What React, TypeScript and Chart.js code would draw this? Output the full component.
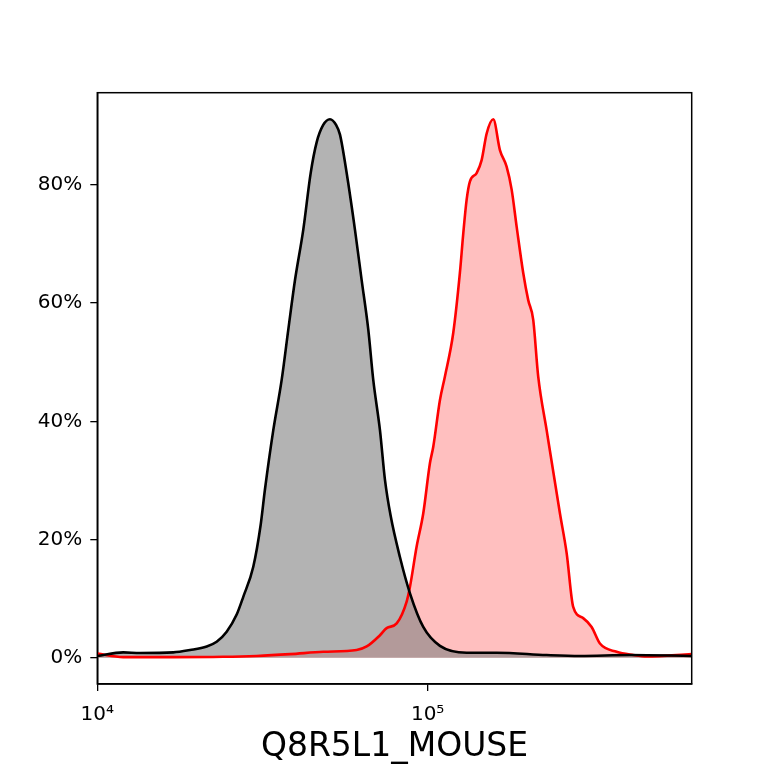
import React, { useEffect, useRef } from "react";
import { Chart, registerables } from "chart.js";

Chart.register(...registerables);

// Control (gray) histogram: x = intensity, y = % of max
const grayX = [10000, 11980, 13470, 16980, 19090, 21440, 22980, 24640, 26420, 27660, 29660, 31230, 32180, 34100, 36150, 37860, 39670, 42020, 44250, 46130, 48250, 50620, 52870, 54280, 56870, 60260, 63130, 66120, 68450, 71720, 74270, 77270, 82460, 88410, 96980, 108960, 131240, 161800, 229200, 289100, 409600, 629500];
const grayY = [0.3, 0.9, 0.8, 0.9, 1.3, 1.9, 2.7, 4.4, 7.3, 10.3, 15.4, 22.5, 28.5, 38.5, 47, 55.5, 63.9, 72.4, 82, 87.2, 90.1, 91.1, 90.1, 88.5, 82, 72.4, 63.9, 55.5, 47, 38.5, 30.1, 24, 17.0, 10.9, 5.2, 2.0, 0.85, 0.85, 0.45, 0.3, 0.45, 0.3];

// Sample (red) histogram
const redX = [10000, 11980, 16980, 24010, 30370, 38300, 48310, 60970, 65370, 71720, 75150, 80580, 86390, 88410, 92620, 96980, 101600, 104000, 108960, 112800, 119500, 125200, 128200, 131240, 134300, 140700, 145700, 150900, 158000, 165500, 173400, 179600, 186000, 194700, 201600, 208700, 216100, 229200, 251500, 263500, 275800, 295700, 313600, 332300, 373300, 419200, 460100, 629500];
const redY = [0.7, 0.1, 0.1, 0.15, 0.3, 0.6, 1.0, 1.3, 1.9, 3.8, 5.0, 5.8, 9.5, 12, 18.8, 24.4, 32.9, 35.7, 43.6, 47.6, 54.9, 65.1, 71.8, 77.5, 80.6, 82.0, 84.2, 88.7, 91.1, 85.9, 83.1, 79.2, 72.9, 65.1, 60.5, 57.2, 47.6, 38.5, 24.4, 17.7, 8.6, 6.7, 5.2, 2.4, 1.0, 0.45, 0.2, 0.6];

const xTickValues = [10000, 100000];
const xTickLabels = ["10⁴", "10⁵"];
const yTickValues = [0, 20, 40, 60, 80];
const xLabel = "Q8R5L1_MOUSE";

const FONT = "'DejaVu Sans', sans-serif";

const framePlugin = {
  id: "frame",
  afterDraw(chart: any) {
    const { ctx, chartArea } = chart;
    ctx.save();
    ctx.strokeStyle = "#000";
    ctx.lineWidth = 1.5;
    ctx.strokeRect(chartArea.left, chartArea.top, chartArea.right - chartArea.left, chartArea.bottom - chartArea.top);
    ctx.restore();
  },
};

export default function App() {
  const ref = useRef<HTMLCanvasElement>(null);
  useEffect(() => {
    if (!ref.current) return;
    const zip = (xs: number[], ys: number[]) => xs.map((x, i) => ({ x, y: ys[i] }));
    const chart = new Chart(ref.current, {
      type: "line",
      data: {
        datasets: [
          {
            label: "control",
            data: zip(grayX, grayY),
            borderColor: "#000000",
            backgroundColor: "rgba(128,128,128,0.6)",
            borderWidth: 2.6,
            pointRadius: 0,
            fill: "origin",
            cubicInterpolationMode: "monotone",
          },
          {
            label: "sample",
            data: zip(redX, redY),
            borderColor: "#ff0000",
            backgroundColor: "rgba(255,0,0,0.25)",
            borderWidth: 2.6,
            pointRadius: 0,
            fill: "origin",
            cubicInterpolationMode: "monotone",
          },
        ],
      },
      options: {
        animation: false,
        responsive: false,
        events: [],
        layout: { padding: { top: 92.7, right: 76.3, left: 0, bottom: 0 } },
        plugins: {
          legend: { display: false },
          tooltip: { enabled: false },
          filler: { drawTime: "beforeDatasetsDraw" } as any,
        },
        scales: {
          x: {
            type: "logarithmic",
            min: 10000,
            max: 630000,
            afterBuildTicks: (s: any) => {
              s.ticks = xTickValues.map((v) => ({ value: v }));
            },
            afterFit: (s: any) => {
              s.height = 84;
            },
            ticks: {
              autoSkip: false,
              maxRotation: 0,
              padding: 12,
              color: "#000",
              font: { family: FONT, size: 20 },
              callback: (v: any) => {
                const i = xTickValues.indexOf(Number(v));
                return i >= 0 ? xTickLabels[i] : "";
              },
            },
            grid: { display: true, drawOnChartArea: false, drawTicks: true, tickLength: 7, color: "#000", lineWidth: 1.3 },
            border: { display: true, color: "#000", width: 1.5 },
            title: { display: true, text: xLabel, color: "#000", font: { family: FONT, size: 33 }, padding: { top: 0, bottom: 1 } },
          },
          y: {
            type: "linear",
            min: -4.45,
            max: 95.6,
            afterBuildTicks: (s: any) => {
              s.ticks = yTickValues.map((v) => ({ value: v }));
            },
            afterFit: (s: any) => {
              s.width = 97.3;
            },
            ticks: {
              padding: 8,
              color: "#000",
              font: { family: FONT, size: 20 },
              callback: (v: any) => `${v}%`,
            },
            grid: { display: true, drawOnChartArea: false, drawTicks: true, tickLength: 7, color: "#000", lineWidth: 1.3 },
            border: { display: true, color: "#000", width: 1.5 },
          },
        },
      },
      plugins: [framePlugin],
    });
    return () => chart.destroy();
  }, []);
  return (
    <div style={{ position: "absolute", left: 0, top: 0, width: 768, height: 768, background: "#fff" }}>
      <canvas ref={ref} width={768} height={768} />
    </div>
  );
}
